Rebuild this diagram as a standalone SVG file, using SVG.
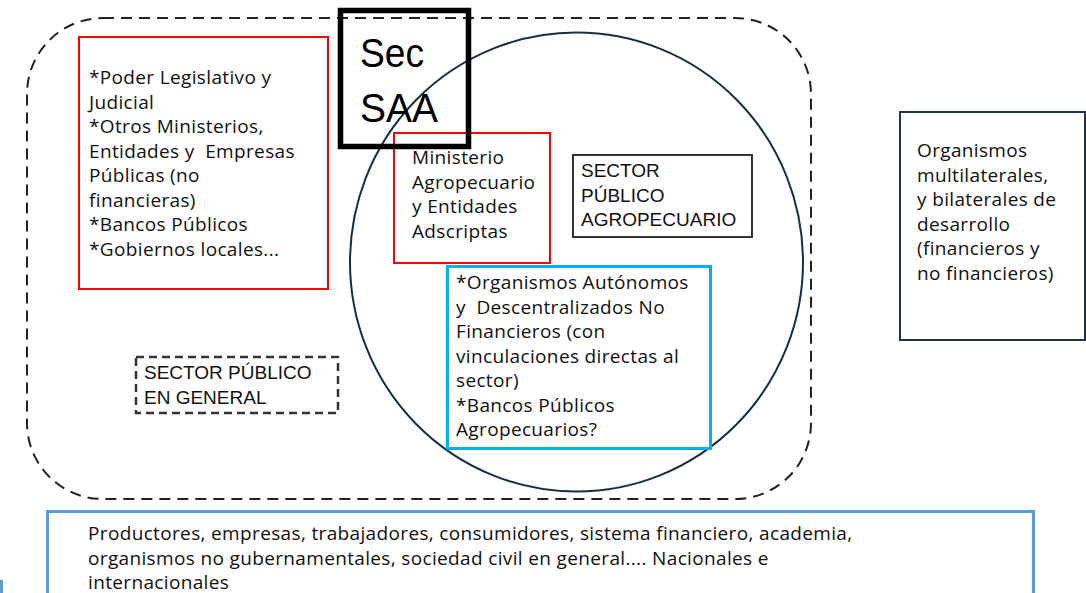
<svg xmlns="http://www.w3.org/2000/svg" width="1086" height="593" viewBox="0 0 1086 593">
<style>
.t{font-family:"Open Sans","Liberation Sans",sans-serif;font-size:19px;letter-spacing:0.35px;fill:#111;white-space:pre}
.c{font-family:"Liberation Sans",Arial,sans-serif;font-size:19px;fill:#111}
.big{font-family:"Liberation Sans",Arial,sans-serif;font-size:41px;fill:#000}
.red{fill:none;stroke:#ff0000;stroke-width:2}
</style>
<rect width="1086" height="593" fill="#fff"/>
<g id="sector-publico-general-area">
<rect x="27" y="18" width="784" height="481" rx="76" ry="76" fill="none" stroke="#222" stroke-width="2" stroke-dasharray="11,7"/>
</g>
<g id="sector-agro-circle">
<ellipse cx="576.5" cy="262" rx="226.5" ry="229.5" fill="none" stroke="#17303f" stroke-width="2"/>
</g>
<g id="otros">
<rect class="red" x="79" y="37" width="249" height="252"/>
<text class="t" x="89" y="84">*Poder Legislativo y</text>
<text class="t" x="89" y="108.5">Judicial</text>
<text class="t" x="89" y="133">*Otros Ministerios,</text>
<text class="t" x="89" y="157.5" xml:space="preserve">Entidades y  Empresas</text>
<text class="t" x="89" y="182">Públicas (no</text>
<text class="t" x="89" y="206.5">financieras)</text>
<text class="t" x="89" y="231">*Bancos Públicos</text>
<text class="t" x="89" y="255.5">*Gobiernos locales...</text>
</g>
<g id="ministerio">
<rect class="red" x="394" y="133" width="156" height="130"/>
<text class="t" x="412" y="164">Ministerio</text>
<text class="t" x="412" y="188.5">Agropecuario</text>
<text class="t" x="412" y="213">y Entidades</text>
<text class="t" x="412" y="237.5">Adscriptas</text>
</g>
<g id="sec-saa">
<rect x="340.5" y="10.5" width="128" height="136" fill="none" stroke="#000" stroke-width="5.5"/>
<text class="big" x="360" y="67" textLength="64" lengthAdjust="spacingAndGlyphs">Sec</text>
<text class="big" x="360" y="122" textLength="78" lengthAdjust="spacingAndGlyphs">SAA</text>
</g>
<g id="sector-publico-agropecuario">
<rect x="573" y="155" width="179" height="82" fill="none" stroke="#333" stroke-width="2"/>
<text class="c" x="581" y="177">SECTOR</text>
<text class="c" x="581" y="201.5">PÚBLICO</text>
<text class="c" x="581" y="226">AGROPECUARIO</text>
</g>
<g id="organismos-autonomos">
<rect x="447.5" y="266.5" width="263" height="182" fill="none" stroke="#00b0f0" stroke-width="3"/>
<text class="t" x="456" y="289">*Organismos Autónomos</text>
<text class="t" x="456" y="313.5" xml:space="preserve">y  Descentralizados No</text>
<text class="t" x="456" y="338">Financieros (con</text>
<text class="t" x="456" y="362.5">vinculaciones directas al</text>
<text class="t" x="456" y="387">sector)</text>
<text class="t" x="456" y="411.5">*Bancos Públicos</text>
<text class="t" x="456" y="436">Agropecuarios?</text>
</g>
<g id="sector-publico-en-general">
<rect x="136" y="357" width="202" height="56" fill="none" stroke="#333" stroke-width="2.5" stroke-dasharray="8,5"/>
<text class="c" x="144" y="379">SECTOR PÚBLICO</text>
<text class="c" x="144" y="403.5">EN GENERAL</text>
</g>
<g id="organismos-multilaterales">
<rect x="900" y="112" width="185" height="228" fill="none" stroke="#1f3344" stroke-width="2"/>
<text class="t" x="917" y="157">Organismos</text>
<text class="t" x="917" y="181.5">multilaterales,</text>
<text class="t" x="917" y="206">y bilaterales de</text>
<text class="t" x="917" y="230.5">desarrollo</text>
<text class="t" x="917" y="255">(financieros y</text>
<text class="t" x="917" y="279.5">no financieros)</text>
</g>
<g id="actores-privados">
<rect x="47.5" y="511.5" width="986" height="90" fill="none" stroke="#5b9bd5" stroke-width="3"/>
<text class="t" x="88" y="540">Productores, empresas, trabajadores, consumidores, sistema financiero, academia,</text>
<text class="t" x="88" y="564.5">organismos no gubernamentales, sociedad civil en general.... Nacionales e</text>
<text class="t" x="88" y="589">internacionales</text>
</g>
<g id="connectors"/>
<line x1="1.5" y1="580" x2="1.5" y2="593" stroke="#5b9bd5" stroke-width="3"/>
</svg>
